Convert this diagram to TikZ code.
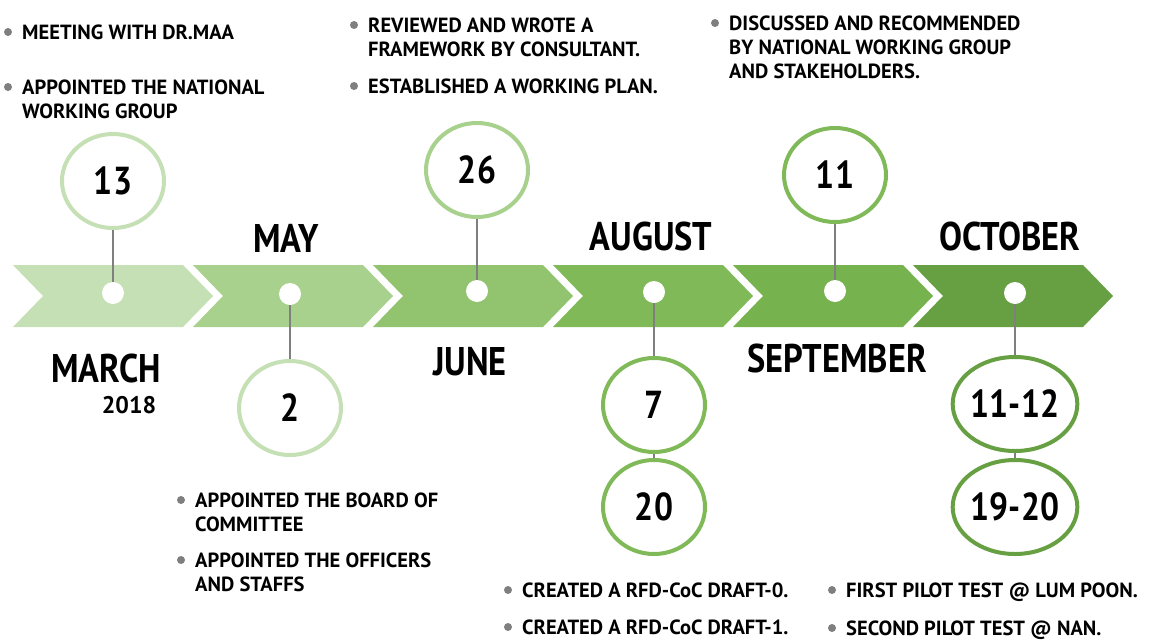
\documentclass[tikz,border=0pt]{standalone}
\usepackage{fontspec}
\setmainfont{PT Sans}
\newfontfamily\condfont{PT Sans}[FakeStretch=0.86]
\usepackage{tikz}
\usetikzlibrary{positioning,shapes.geometric}

\definecolor{grA}{HTML}{C5E0B4}
\definecolor{grB}{HTML}{A9D18E}
\definecolor{grC}{HTML}{92C46F}
\definecolor{grD}{HTML}{80B958}
\definecolor{grE}{HTML}{76B24E}
\definecolor{grF}{HTML}{67A043}
\definecolor{stemgray}{HTML}{7F7F7F}

\tikzset{
  dot/.style={circle,fill=white,minimum size=22,inner sep=0},
  datering/.style={ellipse,draw=#1,fill=white,line width=4,minimum width=102,
                   minimum height=94,inner sep=0,
                   font=\condfont\fontsize{39}{40}\selectfont\bfseries},
  stem/.style={draw=stemgray,line width=2.5},
  month/.style={anchor=base,inner sep=0,font=\condfont\fontsize{40}{42}\selectfont\bfseries},
  note/.style={anchor=north west,inner sep=0,align=left,
               font=\fontsize{20.5}{24}\selectfont\bfseries},
  bul/.style={circle,fill=stemgray,minimum size=8,inner sep=0}
}

\begin{document}
\begin{tikzpicture}[x=1pt,y=-1pt]
  \useasboundingbox (0,0) rectangle (1150,640);

  % chevrons of the time line
  \foreach \col [count=\i from 0] in {grA,grB,grC,grD,grE,grF}
    \fill[\col] ({13+180*\i},265) -- ++(170,0) -- ++(30,31) -- ++(-30,31)
                -- ++(-170,0) -- ++(30,-31) -- cycle;

  % dates
  \node[datering=grA] (c13)   at (113,181)  {13};
  \node[datering=grA] (c2)    at (290,408)  {2};
  \node[datering=grB] (c26)   at (477,170)  {26};
  \node[datering=grD] (c7)    at (654,405)  {7};
  \node[datering=grD] (c20)   at (654,507)  {20};
  \node[datering=grD] (c11)   at (835,175)  {11};
  \node[datering=grF] (c1112) at (1015,404) {11-12};
  \node[datering=grF] (c1920) at (1015,507) {19-20};

  % dots
  \node[dot] (d1) at (113,293)  {};
  \node[dot] (d2) at (290,294)  {};
  \node[dot] (d3) at (477,291)  {};
  \node[dot] (d4) at (654,292)  {};
  \node[dot] (d5) at (835,291)  {};
  \node[dot] (d6) at (1015,293) {};

  \path[stem] (c13) -- (d1)
              (d2) -- (c2)
              (c26) -- (d3)
              (d4) -- (c7)
              (c7) -- (c20)
              (c11) -- (d5)
              (d6) -- (c1112)
              (c1112) -- (c1920);

  % months
  \node[month] (mar)  at (106,382)  {MARCH};
  \node[anchor=base,inner sep=0,font=\fontsize{24}{26}\selectfont\bfseries]
       (year) at (129,413) {2018};
  \node[month] (may)  at (286,252)  {MAY};
  \node[month] (jun)  at (470,375)  {JUNE};
  \node[month] (aug)  at (651,250)  {AUGUST};
  \node[month] (sep)  at (837,372)  {SEPTEMBER};
  \node[month] (oct)  at (1010,250) {OCTOBER};

  % notes
  \node[note] (t1)  at (22,25)   {MEETING WITH DR.MAA};
  \node[note] (t2)  at (22,80)   {APPOINTED THE NATIONAL\\WORKING GROUP};
  \node[note] (t3)  at (368,18)  {REVIEWED AND WROTE A\\FRAMEWORK BY CONSULTANT.};
  \node[note] (t4)  at (368,79)  {ESTABLISHED A WORKING PLAN.};
  \node[note] (t5)  at (729,16)  {DISCUSSED AND RECOMMENDED\\BY NATIONAL WORKING GROUP\\AND STAKEHOLDERS.};
  \node[note] (t6)  at (195,493) {APPOINTED THE BOARD OF\\COMMITTEE};
  \node[note] (t7)  at (195,553) {APPOINTED THE OFFICERS\\AND STAFFS};
  \node[note] (t8)  at (522,583) {CREATED A RFD-CoC DRAFT-0.};
  \node[note] (t9)  at (522,620) {CREATED A RFD-CoC DRAFT-1.};
  \node[note] (t10) at (846,583) {FIRST PILOT TEST @ LUM POON.};
  \node[note] (t11) at (846,621) {SECOND PILOT TEST @ NAN.};

  \foreach \t in {t1,t2,t3,t4,t5,t6,t7,t8,t9,t10,t11}
    \node[bul] (b\t) at ([xshift=-14,yshift=-7]\t.north west) {};
\end{tikzpicture}
\end{document}
